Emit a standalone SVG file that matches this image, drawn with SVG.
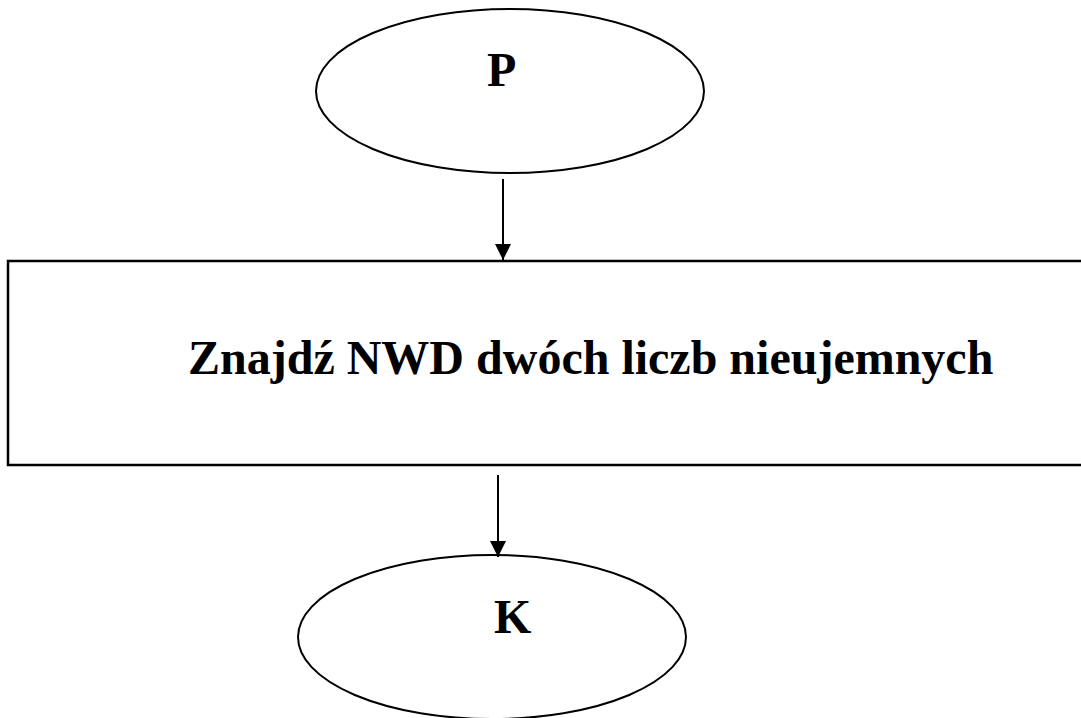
<svg xmlns="http://www.w3.org/2000/svg" width="1081" height="718" viewBox="0 0 1081 718">
<style>
.shape{fill:#fff;stroke:#000;stroke-width:2}
.lbl{font-family:"Liberation Serif","Times New Roman",serif;font-weight:bold;font-size:48px;fill:#000}
.conn{stroke:#000;stroke-width:2;fill:none}
</style>
<defs>
<marker id="arr" markerWidth="16" markerHeight="16" refX="16" refY="8" orient="auto" markerUnits="userSpaceOnUse">
<path d="M0,0 L16,8 L0,16 Z" fill="#000"/>
</marker>
</defs>
<rect width="1081" height="718" fill="#fff"/>
<g id="start">
<ellipse class="shape" cx="510" cy="91" rx="194" ry="82"/>
<text class="lbl" x="487" y="86">P</text>
</g>
<g id="process">
<rect class="shape" x="8" y="261" width="1090" height="204" style="stroke-width:2.5"/>
<text class="lbl" x="188" y="374">Znajdź NWD dwóch liczb nieujemnych</text>
</g>
<g id="end">
<ellipse class="shape" cx="492" cy="637" rx="194" ry="82"/>
<text class="lbl" x="494" y="633">K</text>
</g>
<g id="connectors">
<line class="conn" x1="503" y1="179" x2="503" y2="260" marker-end="url(#arr)"/>
<line class="conn" x1="498" y1="475" x2="498" y2="557" marker-end="url(#arr)"/>
</g>
</svg>
